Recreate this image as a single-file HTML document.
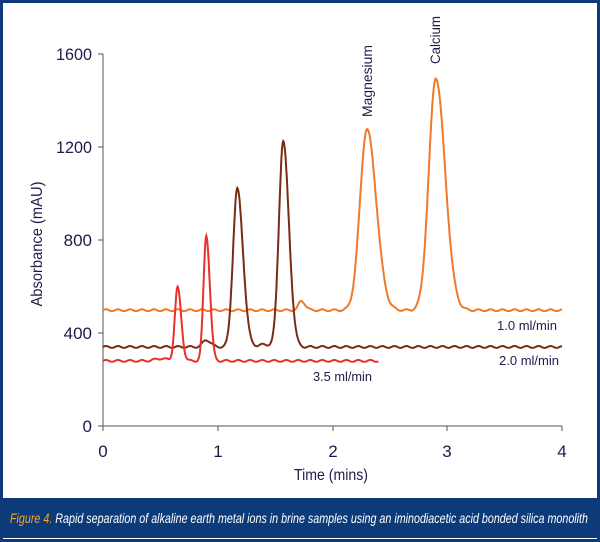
<!DOCTYPE html>
<html><head><meta charset="utf-8"><style>
html,body{margin:0;padding:0;background:#fff}
svg{display:block}
text{font-family:"Liberation Sans",sans-serif;fill:#1c1c4c}
</style></head><body>
<svg id="s" width="600" height="542" xmlns="http://www.w3.org/2000/svg">
<rect x="1.5" y="1.5" width="597" height="539" fill="#fff" stroke="#0d3a78" stroke-width="3"/>
<rect x="3" y="498" width="594" height="40" fill="#0d3a78"/>
<text x="10" y="523" font-size="14" font-style="italic" textLength="578" lengthAdjust="spacingAndGlyphs" style="fill:#fff"><tspan style="fill:#f5a623">Figure 4.</tspan> Rapid separation of alkaline earth metal ions in brine samples using an iminodiacetic acid bonded silica monolith</text>
<g stroke="#555" stroke-width="1" fill="none">
<path d="M103 54V426H562"/>
<path d="M98 54H103M98 147H103M98 240H103M98 333H103M98 426H103"/>
<path d="M103 426V431M218 426V431M333 426V431M447 426V431M562 426V431"/>
</g>
<g font-size="17" text-anchor="end">
<text x="92" y="60" textLength="36" lengthAdjust="spacingAndGlyphs">1600</text>
<text x="92" y="153" textLength="36" lengthAdjust="spacingAndGlyphs">1200</text>
<text x="92" y="246">800</text>
<text x="92" y="339">400</text>
<text x="92" y="432">0</text>
</g>
<g font-size="17" text-anchor="middle">
<text x="103" y="457">0</text><text x="218" y="457">1</text><text x="333" y="457">2</text><text x="447" y="457">3</text><text x="562" y="457">4</text>
</g>
<text x="331" y="480" font-size="16" text-anchor="middle" textLength="74" lengthAdjust="spacingAndGlyphs">Time (mins)</text>
<text transform="translate(42,244) rotate(-90)" font-size="16" text-anchor="middle" textLength="125" lengthAdjust="spacingAndGlyphs">Absorbance (mAU)</text>
<text transform="translate(372,117) rotate(-90)" font-size="14" textLength="72" lengthAdjust="spacingAndGlyphs">Magnesium</text>
<text transform="translate(440,64) rotate(-90)" font-size="14" textLength="48" lengthAdjust="spacingAndGlyphs">Calcium</text>
<text x="497" y="330" font-size="13" textLength="60" lengthAdjust="spacingAndGlyphs">1.0 ml/min</text>
<text x="499" y="365" font-size="13" textLength="60" lengthAdjust="spacingAndGlyphs">2.0 ml/min</text>
<text x="313" y="381" font-size="13" textLength="59" lengthAdjust="spacingAndGlyphs">3.5 ml/min</text>
<path id="or" fill="none" stroke="#f07a2a" stroke-width="2"/>
<path id="br" fill="none" stroke="#7a2c12" stroke-width="2"/>
<path id="rd" fill="none" stroke="#e8302c" stroke-width="2"/>
</svg>
<script>
function X(t){return 103+t*114.75}
function Y(v){return 426-v*0.2325}
function mk(id,base,peaks,t1){
 var d="";
 for(var t=0;t<=t1;t+=0.005){
  var v=base+4*Math.sin(t*60);
  peaks.forEach(function(p){var w=t<p[0]?p[2]:p[2]*(p[3]||1.3);v+=p[1]*Math.exp(-Math.pow((t-p[0])/w,2)/2);});
  d+=(d?"L":"M")+X(t).toFixed(1)+" "+Y(v).toFixed(1);
 }
 document.getElementById(id).setAttribute("d",d);
}
mk("or",498,[[1.73,40,0.025],[2.3,780,0.06,1.35],[2.9,1000,0.06,1.35]],4);
mk("br",340,[[0.9,30,0.03],[1.17,680,0.037,1.35],[1.57,885,0.037,1.35],[1.4,10,0.05]],4);
mk("rd",280,[[0.5,10,0.05],[0.65,315,0.024,1.3],[0.9,540,0.024,1.3]],2.4);
</script>
</body></html>
